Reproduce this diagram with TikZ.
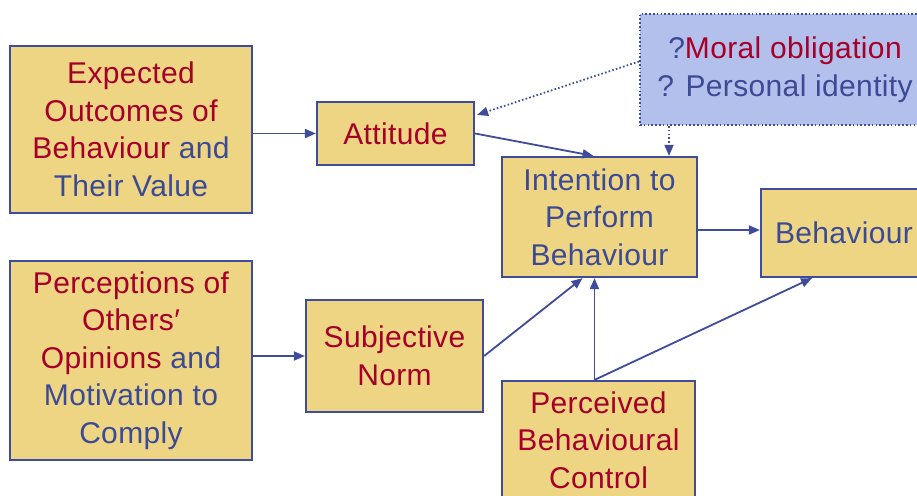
\documentclass[tikz,border=0pt]{standalone}
\usepackage{fontspec}
\setmainfont[LetterSpace=1.2]{Liberation Sans}
\usetikzlibrary{arrows.meta}
\definecolor{boxfill}{HTML}{EDD583}
\definecolor{edge}{HTML}{3F4B9B}
\definecolor{redtxt}{HTML}{A6002A}
\definecolor{bluetxt}{HTML}{3C4A96}
\definecolor{bluefill}{HTML}{B4C0EC}
\newcommand{\R}[1]{\textcolor{redtxt}{#1}}
\newcommand{\B}[1]{\textcolor{bluetxt}{#1}}
\begin{document}
\begin{tikzpicture}[x=1pt,y=-1pt,
  box/.style={draw=edge, line width=2.2pt, fill=boxfill, rectangle, inner sep=0pt, align=center,
    font=\fontsize{30}{37.5}\selectfont},
  qbox/.style={draw=edge, line width=2pt, dash pattern=on 1.6pt off 2.2pt, fill=bluefill, rectangle, inner sep=0pt, align=center,
    font=\fontsize{30}{37.5}\selectfont},
  arr/.style={draw=edge, line width=1.8pt, -{Triangle[length=11pt,width=9pt]}},
  darr/.style={draw=edge, line width=1.8pt, dash pattern=on 1.6pt off 2.2pt, -{Triangle[length=11pt,width=9pt]}}]
\useasboundingbox (0,0) rectangle (917,495);
\clip (0,0) rectangle (917,495);
\node[box, minimum width=242pt, minimum height=167pt] (eo) at (131,129.5)
  {\R{Expected}\\ \R{Outcomes of}\\ \R{Behaviour} \B{and}\\ \B{Their Value}};
\node[box, minimum width=242pt, minimum height=199pt] (po) at (131,360.5)
  {\R{Perceptions of}\\ \R{Others′}\\ \R{Opinions} \B{and}\\ \B{Motivation to}\\ \B{Comply}};
\node[box, minimum width=157pt, minimum height=63pt] (att) at (395.5,133.5) {\R{Attitude}};
\node[box, minimum width=177pt, minimum height=112pt] (sn) at (394.5,356) {\R{Subjective}\\ \R{Norm}};
\node[box, minimum width=195pt, minimum height=120pt] (int) at (599.5,217) {\B{Intention to}\\ \B{Perform}\\ \B{Behaviour}};
\node[box, minimum width=166pt, minimum height=88pt] (beh) at (844,233) {\B{Behaviour}};
\node[box, minimum width=193pt, minimum height=118pt] (pbc) at (598.5,440) {\R{Perceived}\\ \R{Behavioural}\\ \R{Control}};
\node[qbox, minimum width=290pt, minimum height=111pt] (bb) at (785,69.5) {\raisebox{-2pt}{\B{?}\R{Moral obligation}}\\ \raisebox{-2pt}{\B{? Personal identity}}};
\draw[arr] (eo.east |- att.west) -- (att.west);
\draw[arr] (po.east |- sn.west) -- (sn.west);
\draw[arr] (att.east) -- ([xshift=-6pt]int.north);
\draw[darr] ([yshift=8pt]bb.west) -- ([xshift=2pt,yshift=-14pt]att.north east);
\draw[darr] ([xshift=-116pt]bb.south) -- ([xshift=-116pt]bb.south |- int.north);
\draw[arr] ([yshift=3pt]beh.west -| int.east) -- ([yshift=3pt]beh.west);
\draw[arr] (sn.east) -- ([xshift=-17pt]int.south);
\draw[arr] ([xshift=-4pt]pbc.north) -- ([xshift=-4pt]pbc.north |- int.south);
\draw[arr] ([xshift=-4pt]pbc.north) -- ([xshift=-32pt]beh.south);
\end{tikzpicture}
\end{document}
